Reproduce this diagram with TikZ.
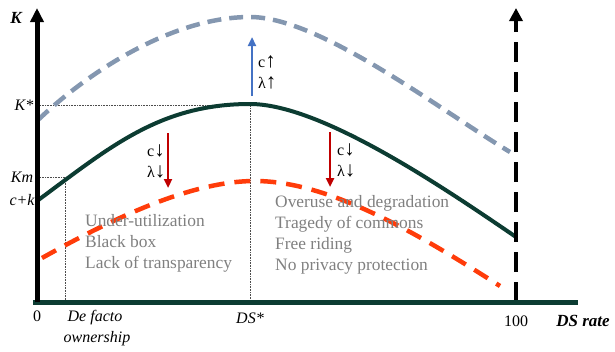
\documentclass[tikz,border=0pt]{standalone}
\usepackage{fontspec}
\setmainfont{Liberation Serif}
\usetikzlibrary{positioning,arrows.meta}
\definecolor{axisgreen}{RGB}{12,60,50}
\definecolor{steelgrey}{RGB}{132,151,176}
\definecolor{curvered}{RGB}{255,60,10}
\definecolor{darkred}{RGB}{192,0,0}
\definecolor{upblue}{RGB}{68,114,196}
\definecolor{notegrey}{RGB}{128,128,128}
\newcommand{\upar}{{\fontsize{21}{21}\selectfont↑}}
\newcommand{\downar}{{\fontsize{21}{21}\selectfont↓}}

\begin{document}
\begin{tikzpicture}[x=1pt,y=-1pt,
    lbl/.style={font=\fontsize{16}{20}\selectfont\itshape, inner sep=0pt},
    note/.style={font=\fontsize{17.4}{21}\selectfont, text=notegrey, align=left, inner sep=0pt, anchor=west},
    shiftlbl/.style={font=\fontsize{16}{21}\selectfont, align=left, inner sep=0pt, anchor=west},
    guide/.style={densely dotted, line width=0.6pt, black!70}]
      \useasboundingbox (0,0) rectangle (615,351);

      % axis points
      \coordinate (o) at (37,302);
      \coordinate (ytop) at (37,8);
      \coordinate (xleft) at (33,302);
      \coordinate (xright) at (578,302);
      \coordinate (hbot) at (516,302);
      \coordinate (htop) at (516,8);
      \coordinate (kstarpt) at (250,105);
      \coordinate (dsbot) at (250,302);
      \coordinate (kmpt) at (65,177);
      \coordinate (kmbot) at (65,302);
      \coordinate (kstarax) at (37,105);
      \coordinate (kmax) at (37,177);

      % labels on the axes
      \node[lbl, font=\fontsize{17}{20}\selectfont\bfseries\itshape] (ylab) at (16,18) {K};
      \node[lbl] (kstar) at (24,105) {K*};
      \node[lbl] (km) at (22,177) {Km};
      \node[lbl] (ck) at (22,200) {c+k};
      \node[lbl, font=\fontsize{16}{20}\selectfont] (zero) at (37,316) {0};
      \node[lbl] (defacto) at (95,318) {De facto};
      \node[lbl] (owner) at (97,339) {ownership};
      \node[lbl] (dsstar) at (250,318) {DS*};
      \node[lbl, font=\fontsize{16}{20}\selectfont] (hundred) at (516,321) {100};
      \node[lbl, font=\fontsize{17}{20}\selectfont\bfseries\itshape] (dsrate) at (583,321) {DS rate};

      % guides
      \draw[guide] (kstarax) -- (kstarpt) -- (dsbot);
      \draw[guide] (kmax) -- (kmpt) -- (kmbot);

      % curves
      \draw[steelgrey, line width=4.5pt, dash pattern=on 14pt off 8pt]
        (38,120) .. controls (85,75) and (170,17) .. (250,17)
        .. controls (320,17) and (440,110) .. (510,152);
      \draw[axisgreen, line width=4pt]
        (37,201) .. controls (110,147) and (160,104) .. (250,104)
        .. controls (320,104) and (440,185) .. (516,237);
      \draw[curvered, line width=4.5pt, dash pattern=on 16pt off 10pt]
        (42,258) .. controls (110,220) and (190,181) .. (255,181)
        .. controls (330,181) and (420,235) .. (500,286);

      % axes
      \draw[line width=4pt, dash pattern=on 20pt off 10pt, -{Triangle[width=13pt,length=13pt]}] (hbot) -- (htop);
      \draw[axisgreen, line width=5pt] (xleft) -- (xright);
      \draw[line width=5pt, -{Triangle[width=13pt,length=14pt]}] (o) -- (ytop);

      % shifts
      \coordinate (ua) at (252,96);
      \coordinate (ub) at (252,37);
      \coordinate (la) at (168,133);
      \coordinate (lb) at (168,188);
      \coordinate (ra) at (330,132);
      \coordinate (rb) at (330,187);
      \draw[upblue, line width=2.5pt, -{Triangle[width=8pt,length=9pt]}] (ua) -- (ub);
      \draw[darkred, line width=2.5pt, -{Triangle[width=8pt,length=9pt]}] (la) -- (lb);
      \draw[darkred, line width=2.5pt, -{Triangle[width=8pt,length=9pt]}] (ra) -- (rb);
      \node[shiftlbl] (upl) at (258,72) {c\upar\\λ\upar};
      \node[shiftlbl] (leftl) at (147,161) {c\downar\\λ\downar};
      \node[shiftlbl] (rightl) at (337,160) {c\downar\\λ\downar};

      % notes
      \node[note] (under) at (85,243) {Under-utilization\\Black box\\Lack of transparency};
      \node[note] (over) at (275,235) {Overuse and degradation\\Tragedy of commons\\Free riding\\No privacy protection};
\end{tikzpicture}
\end{document}
